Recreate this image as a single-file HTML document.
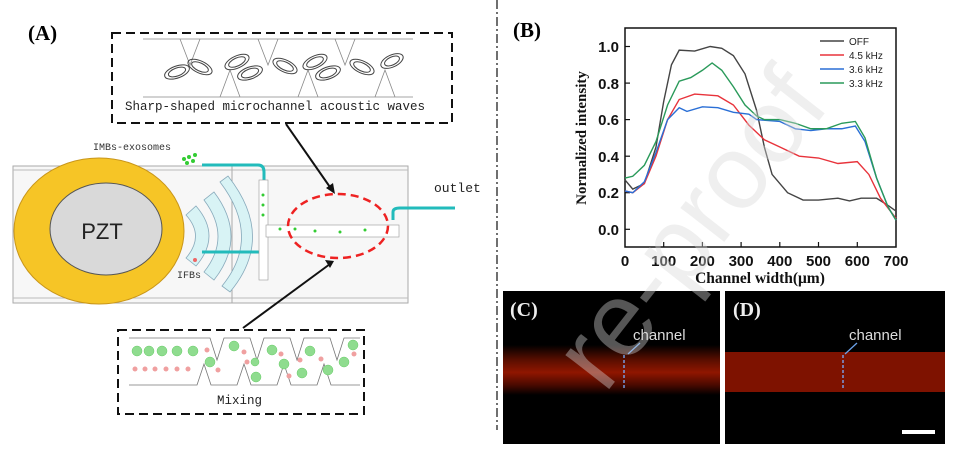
<!DOCTYPE html>
<html><head><meta charset="utf-8"><style>
html,body{margin:0;padding:0;background:#fff;width:955px;height:457px;overflow:hidden}
svg{display:block}
</style></head><body>
<svg width="955" height="457" viewBox="0 0 955 457" xmlns="http://www.w3.org/2000/svg" overflow="hidden">
<defs>
<linearGradient id="rg" x1="0" y1="0" x2="0" y2="1">
<stop offset="0" stop-color="#000"/><stop offset="0.3" stop-color="#5a0e00"/><stop offset="0.55" stop-color="#901600"/><stop offset="0.8" stop-color="#4a0a00"/><stop offset="1" stop-color="#000"/>
</linearGradient>
</defs>
<rect width="955" height="457" fill="#fff"/>
<line x1="497" y1="0" x2="497" y2="430" stroke="#222" stroke-width="1.3" stroke-dasharray="9,3,2,3"/>
<text x="28" y="40" font-family="Liberation Serif" font-weight="bold" font-size="21">(A)</text>
<rect x="112" y="33" width="340" height="90" fill="none" stroke="#111" stroke-width="2" stroke-dasharray="9,5"/>
<g stroke="#888" stroke-width="0.8" fill="none">
<line x1="143" y1="39" x2="413" y2="39"/><line x1="143" y1="97" x2="413" y2="97"/>
<polyline points="180,39 190,65 200,39"/><polyline points="258,39 268,65 278,39"/><polyline points="335,39 345,65 355,39"/>
<polyline points="220,97 230,70 240,97"/><polyline points="298,97 308,70 318,97"/><polyline points="375,97 385,70 395,97"/>
</g>
<g fill="none" stroke="#444" stroke-width="1">
<ellipse cx="177" cy="72" rx="13" ry="6" transform="rotate(-20 177 72)"/><ellipse cx="177" cy="72" rx="9" ry="4" transform="rotate(-20 177 72)"/>
<ellipse cx="200" cy="67" rx="13" ry="6" transform="rotate(25 200 67)"/><ellipse cx="200" cy="67" rx="9" ry="4" transform="rotate(25 200 67)"/>
<ellipse cx="237" cy="62" rx="13" ry="6" transform="rotate(-25 237 62)"/><ellipse cx="237" cy="62" rx="9" ry="4" transform="rotate(-25 237 62)"/>
<ellipse cx="250" cy="73" rx="13" ry="6" transform="rotate(-20 250 73)"/><ellipse cx="250" cy="73" rx="9" ry="4" transform="rotate(-20 250 73)"/>
<ellipse cx="285" cy="66" rx="13" ry="6" transform="rotate(25 285 66)"/><ellipse cx="285" cy="66" rx="9" ry="4" transform="rotate(25 285 66)"/>
<ellipse cx="315" cy="62" rx="13" ry="6" transform="rotate(-25 315 62)"/><ellipse cx="315" cy="62" rx="9" ry="4" transform="rotate(-25 315 62)"/>
<ellipse cx="328" cy="73" rx="13" ry="6" transform="rotate(-20 328 73)"/><ellipse cx="328" cy="73" rx="9" ry="4" transform="rotate(-20 328 73)"/>
<ellipse cx="362" cy="67" rx="13" ry="6" transform="rotate(25 362 67)"/><ellipse cx="362" cy="67" rx="9" ry="4" transform="rotate(25 362 67)"/>
<ellipse cx="392" cy="61" rx="12" ry="6" transform="rotate(-25 392 61)"/><ellipse cx="392" cy="61" rx="8" ry="4" transform="rotate(-25 392 61)"/>
</g>
<text x="125" y="110" font-family="Liberation Mono" font-size="12.5" fill="#222">Sharp-shaped microchannel acoustic waves</text>
<rect x="13" y="166" width="395" height="137" fill="#f7f7f7" stroke="#aaa"/>
<line x1="13" y1="170" x2="408" y2="170" stroke="#bbb"/><line x1="13" y1="298" x2="408" y2="298" stroke="#bbb"/>
<line x1="232" y1="166" x2="232" y2="303" stroke="#aaa"/>
<g fill="#d8f3f5" stroke="#8ab" stroke-width="0.8">
<path d="M186,215 Q205,236 186,258 L196,266 Q222,236 196,206 Z"/>
<path d="M204,200 Q232,237 204,272 L214,280 Q248,237 214,192 Z"/>
<path d="M220,182 Q262,237 222,286 L230,292 Q276,237 228,176 Z"/>
</g>
<ellipse cx="99" cy="231" rx="85" ry="73" fill="#f6c526" stroke="#c9961a"/>
<ellipse cx="106" cy="229" rx="56" ry="46" fill="#d9d9d9" stroke="#555"/>
<text x="102" y="239" text-anchor="middle" font-family="Liberation Sans" font-size="22" fill="#222">PZT</text>
<text x="93" y="150" font-family="Liberation Mono" font-size="10" fill="#333">IMBs-exosomes</text>
<g fill="#3c3"><circle cx="184" cy="159" r="2"/><circle cx="189" cy="157" r="2"/><circle cx="193" cy="161" r="2"/><circle cx="187" cy="163" r="2"/><circle cx="195" cy="155" r="2"/></g>
<text x="177" y="278" font-family="Liberation Mono" font-size="10" fill="#333">IFBs</text>
<circle cx="195" cy="260" r="2" fill="#e66"/>
<g fill="none" stroke="#2bb" stroke-width="3">
<path d="M202,165 L258,165 Q264,165 264,172 L264,184"/>
<path d="M202,252 L258,252 Q264,252 264,258 L264,270"/>
<path d="M393,220 L393,212 Q393,208 400,208 L455,208"/>
</g>
<rect x="259" y="180" width="9" height="100" fill="#fff" stroke="#999" stroke-width="0.6"/>
<rect x="266" y="225" width="133" height="12" fill="#fff" stroke="#999" stroke-width="0.6"/>
<g fill="#3c3"><circle cx="263" cy="195" r="1.5"/><circle cx="263" cy="205" r="1.5"/><circle cx="263" cy="215" r="1.5"/><circle cx="280" cy="229" r="1.5"/><circle cx="295" cy="229" r="1.5"/><circle cx="315" cy="231" r="1.5"/><circle cx="340" cy="232" r="1.5"/><circle cx="365" cy="230" r="1.5"/></g>
<ellipse cx="338" cy="226" rx="50" ry="32" fill="none" stroke="#e22" stroke-width="2.5" stroke-dasharray="8,5"/>
<text x="434" y="192" font-family="Liberation Mono" font-size="13" fill="#222">outlet</text>
<line x1="286" y1="124" x2="332" y2="190" stroke="#111" stroke-width="2"/>
<polygon points="335,194 326,188 333,183" fill="#111"/>
<line x1="243" y1="328" x2="330" y2="264" stroke="#111" stroke-width="2"/>
<polygon points="334,261 325,260 330,268" fill="#111"/>
<rect x="118" y="330" width="246" height="84" fill="none" stroke="#111" stroke-width="2" stroke-dasharray="9,5"/>
<g stroke="#777" stroke-width="0.8" fill="none">
<polyline points="129,338 210,338 217,360 224,338 250,338 257,360 264,338 290,338 297,360 304,338 330,338 337,360 344,338 360,338"/>
<polyline points="129,385 197,385 204,364 211,385 237,385 244,364 251,385 277,385 284,364 291,385 317,385 324,364 331,385 360,385"/>
</g>
<g fill="#8fdc8f" stroke="#6c6" stroke-width="0.5">
<circle cx="137" cy="351" r="5"/><circle cx="149" cy="351" r="5"/><circle cx="162" cy="351" r="5"/><circle cx="177" cy="351" r="5"/><circle cx="193" cy="351" r="5"/><circle cx="210" cy="362" r="5"/><circle cx="234" cy="346" r="5"/><circle cx="272" cy="350" r="5"/><circle cx="256" cy="377" r="5"/><circle cx="284" cy="364" r="5"/><circle cx="310" cy="351" r="5"/><circle cx="302" cy="373" r="5"/><circle cx="328" cy="370" r="5"/><circle cx="344" cy="362" r="5"/><circle cx="353" cy="345" r="5"/><circle cx="255" cy="362" r="4"/>
</g>
<g fill="#f0a0a0"><circle cx="135" cy="369" r="2.5"/><circle cx="145" cy="369" r="2.5"/><circle cx="155" cy="369" r="2.5"/><circle cx="166" cy="369" r="2.5"/><circle cx="177" cy="369" r="2.5"/><circle cx="188" cy="369" r="2.5"/><circle cx="207" cy="350" r="2.5"/><circle cx="218" cy="370" r="2.5"/><circle cx="244" cy="352" r="2.5"/><circle cx="247" cy="362" r="2.5"/><circle cx="281" cy="354" r="2.5"/><circle cx="289" cy="376" r="2.5"/><circle cx="300" cy="360" r="2.5"/><circle cx="321" cy="359" r="2.5"/><circle cx="354" cy="354" r="2.5"/></g>
<text x="217" y="404" font-family="Liberation Mono" font-size="12.5" fill="#222">Mixing</text>

<text x="513" y="37" font-family="Liberation Serif" font-weight="bold" font-size="21">(B)</text>
<rect x="625" y="28" width="271" height="219" fill="none" stroke="#111" stroke-width="1.5"/>
<g stroke="#111" stroke-width="1.2">
<line x1="625" y1="229.3" x2="630" y2="229.3"/><line x1="625" y1="192.7" x2="630" y2="192.7"/><line x1="625" y1="156.2" x2="630" y2="156.2"/><line x1="625" y1="119.6" x2="630" y2="119.6"/><line x1="625" y1="83.1" x2="630" y2="83.1"/><line x1="625" y1="46.5" x2="630" y2="46.5"/>
<line x1="663.7" y1="247" x2="663.7" y2="242"/><line x1="702.4" y1="247" x2="702.4" y2="242"/><line x1="741.1" y1="247" x2="741.1" y2="242"/><line x1="779.8" y1="247" x2="779.8" y2="242"/><line x1="818.5" y1="247" x2="818.5" y2="242"/><line x1="857.3" y1="247" x2="857.3" y2="242"/>
</g>
<g font-family="Liberation Sans" font-weight="bold" font-size="15" fill="#111" text-anchor="end">
<text x="619" y="235">0.0</text><text x="619" y="198">0.2</text><text x="619" y="162">0.4</text><text x="619" y="125">0.6</text><text x="619" y="89">0.8</text><text x="619" y="52">1.0</text>
</g>
<g font-family="Liberation Sans" font-weight="bold" font-size="15" fill="#111" text-anchor="middle">
<text x="625" y="266">0</text><text x="663.7" y="266">100</text><text x="702.4" y="266">200</text><text x="741.1" y="266">300</text><text x="779.8" y="266">400</text><text x="818.5" y="266">500</text><text x="857.3" y="266">600</text><text x="896" y="266">700</text>
</g>
<text x="760" y="283" text-anchor="middle" font-family="Liberation Serif" font-weight="bold" font-size="15.5" fill="#111">Channel width(μm)</text>
<text transform="translate(586,138) rotate(-90)" text-anchor="middle" font-family="Liberation Serif" font-weight="bold" font-size="15" fill="#111">Normalized intensity</text>
<g fill="none" stroke-width="1.4" transform="translate(625,229.3) scale(0.3871,-182.8)">
<polyline vector-effect="non-scaling-stroke" stroke="#444" points="0,0.27 20,0.22 50,0.25 80,0.45 100,0.7 120,0.9 140,0.98 180,0.975 220,1.0 250,0.99 280,0.95 310,0.85 340,0.65 360,0.45 380,0.3 420,0.2 460,0.16 500,0.16 550,0.17 580,0.155 610,0.17 650,0.17 680,0.13 700,0.1"/>
<polyline vector-effect="non-scaling-stroke" stroke="#e8333b" points="0,0.21 20,0.2 50,0.25 80,0.4 110,0.6 140,0.71 180,0.74 240,0.73 280,0.68 320,0.57 360,0.49 400,0.45 450,0.4 500,0.39 550,0.36 600,0.37 630,0.3 660,0.17 700,0.06"/>
<polyline vector-effect="non-scaling-stroke" stroke="#2a6fd6" points="0,0.21 20,0.2 50,0.26 80,0.42 110,0.6 140,0.665 160,0.645 200,0.67 240,0.665 280,0.64 320,0.63 340,0.6 400,0.59 440,0.55 480,0.54 520,0.55 560,0.55 595,0.565 620,0.48 650,0.28 680,0.12 700,0.05"/>
<polyline vector-effect="non-scaling-stroke" stroke="#2a9a5a" points="0,0.28 20,0.29 50,0.35 80,0.48 110,0.68 140,0.81 170,0.83 200,0.87 225,0.91 250,0.87 280,0.78 310,0.68 340,0.62 360,0.6 400,0.6 440,0.58 480,0.55 520,0.55 560,0.58 595,0.59 620,0.5 650,0.28 680,0.12 700,0.05"/>
</g>
<g stroke-width="1.4">
<line x1="820" y1="41" x2="844" y2="41" stroke="#444"/><line x1="820" y1="55" x2="844" y2="55" stroke="#e8333b"/><line x1="820" y1="69" x2="844" y2="69" stroke="#2a6fd6"/><line x1="820" y1="83" x2="844" y2="83" stroke="#2a9a5a"/>
</g>
<g font-family="Liberation Sans" font-size="10" fill="#222">
<text x="849" y="45">OFF</text><text x="849" y="59">4.5 kHz</text><text x="849" y="73">3.6 kHz</text><text x="849" y="87">3.3 kHz</text>
</g>

<rect x="503" y="291" width="217" height="153" fill="#000"/>
<rect x="503" y="345" width="217" height="50" fill="url(#rg)"/>
<text x="510" y="316" font-family="Liberation Serif" font-weight="bold" font-size="20" fill="#eee">(C)</text>
<text x="633" y="340" font-family="Liberation Sans" font-size="15" fill="#ddd">channel</text>
<line x1="640" y1="343" x2="628" y2="354" stroke="#6aa0e8" stroke-width="1.3"/>
<line x1="624" y1="355" x2="624" y2="390" stroke="#7ab0ff" stroke-width="1.3" stroke-dasharray="3,2"/>
<rect x="725" y="291" width="220" height="153" fill="#000"/>
<rect x="725" y="352" width="220" height="40" fill="#7e1200"/>
<text x="733" y="316" font-family="Liberation Serif" font-weight="bold" font-size="20" fill="#eee">(D)</text>
<text x="849" y="340" font-family="Liberation Sans" font-size="15" fill="#ddd">channel</text>
<line x1="857" y1="343" x2="845" y2="354" stroke="#6aa0e8" stroke-width="1.3"/>
<line x1="843" y1="355" x2="843" y2="390" stroke="#7ab0ff" stroke-width="1.3" stroke-dasharray="3,2"/>
<rect x="902" y="430" width="33" height="4" fill="#fff"/>

<text transform="translate(690,228) rotate(-52)" text-anchor="middle" dominant-baseline="central" font-family="Liberation Sans" font-size="105" fill="#d8d8d8" fill-opacity="0.4">re-proof</text>
</svg>
</body></html>
